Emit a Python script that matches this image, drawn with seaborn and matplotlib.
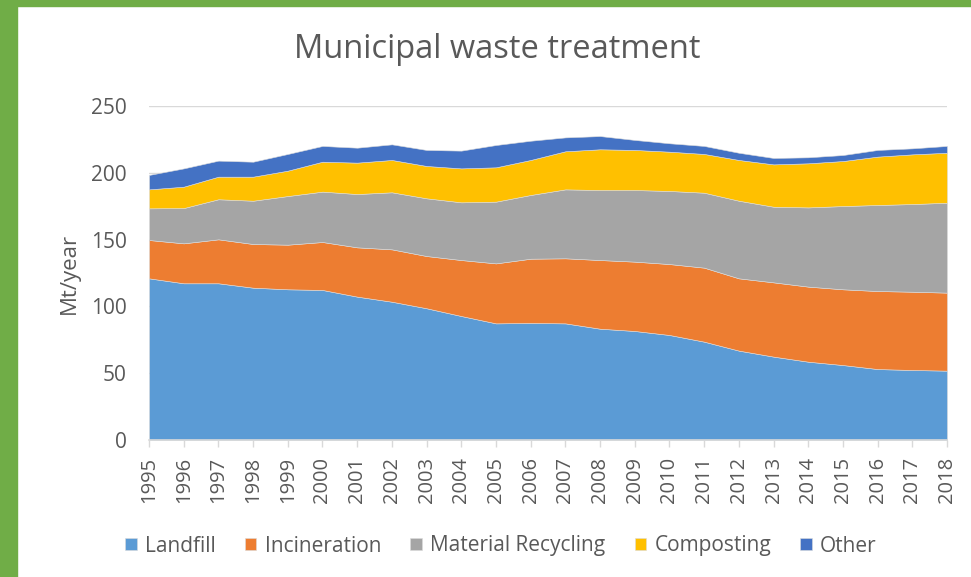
import matplotlib
matplotlib.use("Agg")
import matplotlib.pyplot as plt
import seaborn as sns
import pandas as pd
from matplotlib.patches import Rectangle

years = list(range(1995, 2019))
landfill = [121.0, 117.3, 117.3, 114.0, 112.8, 112.3, 107.3, 103.5, 98.6, 92.8, 87.3, 87.6,
            87.3, 83.3, 81.6, 78.6, 73.6, 66.9, 62.4, 58.6, 56.1, 53.1, 52.4, 51.9]
incineration = [28.7, 29.9, 32.9, 32.7, 33.4, 35.9, 36.9, 39.2, 39.1, 41.9, 44.9, 48.1,
                48.7, 51.4, 51.9, 53.1, 55.4, 54.1, 55.6, 56.2, 56.7, 58.4, 58.6, 58.4]
recycling = [23.7, 26.4, 30.0, 32.4, 36.4, 37.7, 39.9, 42.7, 43.2, 43.2, 46.2, 47.7,
             51.6, 52.4, 53.6, 54.7, 56.1, 58.1, 56.6, 59.3, 62.3, 64.4, 65.6, 67.3]
composting = [14.2, 16.0, 16.9, 18.0, 19.0, 22.4, 23.5, 24.2, 24.2, 25.4, 25.7, 26.2,
              28.5, 30.5, 30.0, 29.4, 29.0, 30.5, 31.7, 33.0, 33.7, 36.2, 37.2, 37.4]
other = [10.8, 13.7, 12.0, 11.2, 12.5, 11.8, 11.2, 11.7, 12.0, 13.3, 16.7, 14.4,
         10.4, 9.9, 7.5, 6.3, 6.0, 5.4, 4.8, 4.5, 4.5, 5.0, 4.5, 5.1]
series_names = ["Landfill", "Incineration", "Material Recycling", "Composting", "Other"]
colors = ["#5B9BD5", "#ED7D31", "#A5A5A5", "#FFC000", "#4472C4"]

df = pd.DataFrame({"Year": years, "Landfill": landfill, "Incineration": incineration,
                   "Material Recycling": recycling, "Composting": composting, "Other": other})

sns.set_theme(style="white")
plt.rcParams["font.family"] = ["Open Sans", "DejaVu Sans"]
text_color = "#595959"

fig = plt.figure(figsize=(9.71, 5.77), dpi=100)
ax = fig.add_axes([149 / 971, 1 - 440 / 577, (947 - 149) / 971, (440 - 106) / 577])

ax.stackplot(df["Year"], [df[n] for n in series_names], labels=series_names,
             colors=colors, edgecolor="#dcdcdc", linewidth=0.4, zorder=2)

ax.set_xlim(1995, 2018)
ax.set_ylim(0, 250)
ax.set_yticks([0, 50, 100, 150, 200, 250])
ax.set_xticks(years)
ax.set_xticklabels([str(y) for y in years], rotation=90)
ax.yaxis.grid(True, color="#d9d9d9", linewidth=1, zorder=0)
ax.set_axisbelow(True)
for s in ["top", "right", "left"]:
    ax.spines[s].set_visible(False)
ax.spines["bottom"].set_color("#d9d9d9")
ax.spines["bottom"].set_linewidth(1.2)
ax.spines["bottom"].set_zorder(3)
ax.tick_params(axis="x", which="both", bottom=True, length=5, width=1, color="#d9d9d9",
               direction="out", pad=7, labelsize=14.5, labelcolor=text_color)
ax.tick_params(axis="y", length=0, pad=16, labelsize=15, labelcolor=text_color)
ax.set_ylabel("Mt/year", fontsize=16, color=text_color, labelpad=8)

fig.text(497 / 971, 1 - 50 / 577, "Municipal waste treatment", ha="center", va="center",
         fontsize=23.5, color=text_color)

handles, labels = ax.get_legend_handles_labels()
leg = fig.legend(handles, labels, loc="center", bbox_to_anchor=(501 / 971, 1 - 546 / 577),
                 ncol=5, frameon=False, fontsize=15, handlelength=0.55, handleheight=0.55,
                 handletextpad=0.4, columnspacing=1.4, labelcolor=text_color)

green = "#70AD47"
fig.patches.append(Rectangle((0, 0), 17 / 971, 1, transform=fig.transFigure, color=green, zorder=10))
fig.patches.append(Rectangle((0, 1 - 6 / 577), 1, 6 / 577, transform=fig.transFigure, color=green, zorder=10))

fig.savefig("out.png", dpi=100)
